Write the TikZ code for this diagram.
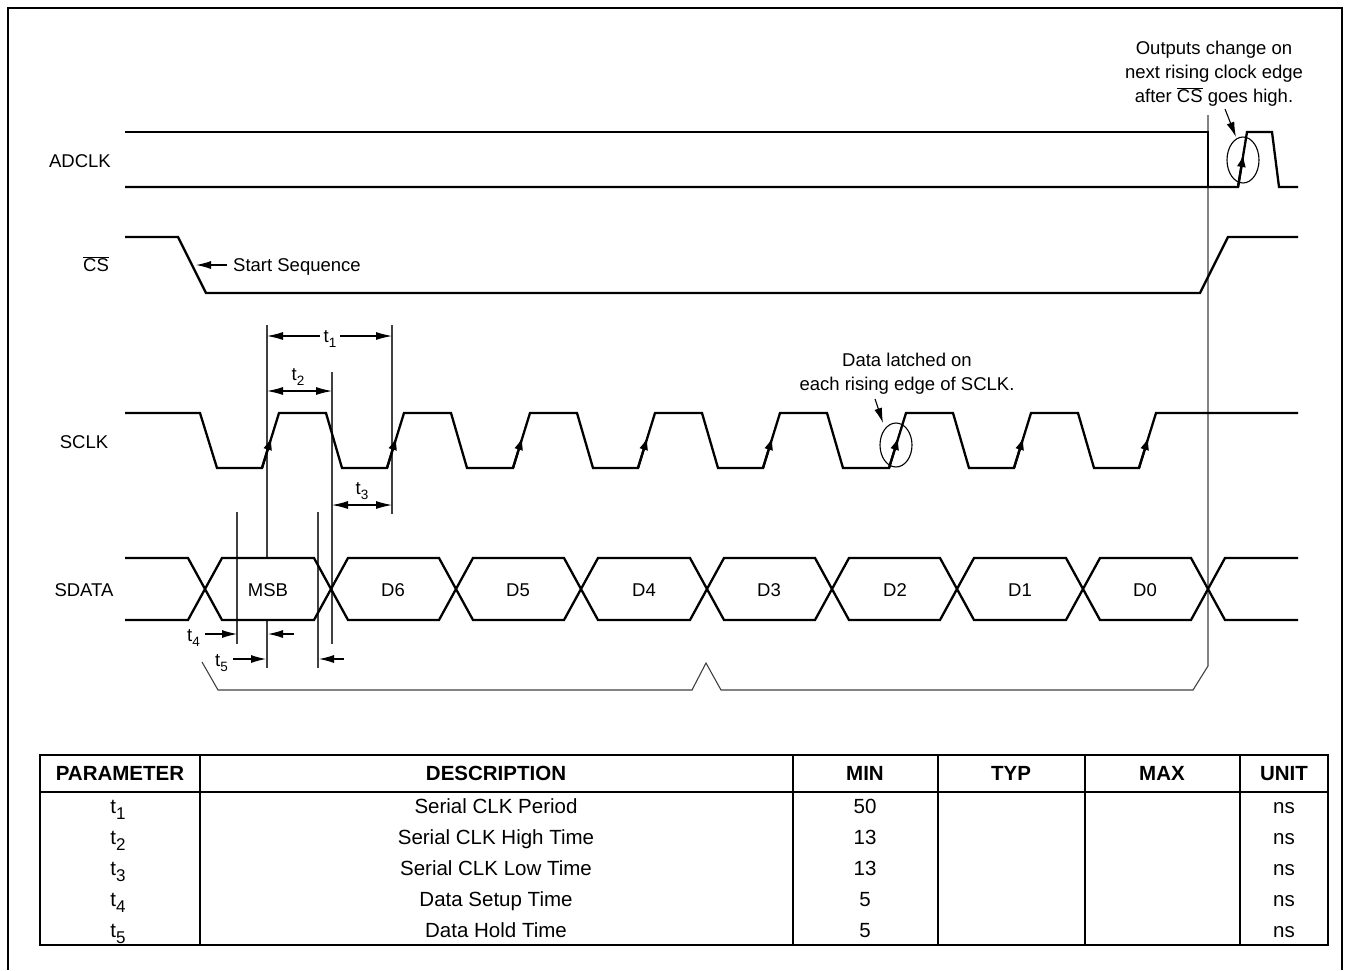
\documentclass[tikz,border=0pt]{standalone}
\usepackage{fontspec}
\setmainfont{Liberation Sans}
\usetikzlibrary{arrows.meta}

% t with lowered index, diagram and table sizes
\newcommand{\dsub}[1]{t\raisebox{-5pt}{\fontsize{13.5}{14}\selectfont #1}}
\newcommand{\tsub}[1]{t\raisebox{-6pt}{\fontsize{17}{18}\selectfont #1}}

\tikzset{
  sig/.style={line width=2.3pt, line join=miter},
  guide/.style={line width=1.1pt, black!75},
  dim/.style={line width=1.1pt, {Latex[length=16pt,width=8pt]}-{Latex[length=16pt,width=8pt]}},
  ptr/.style={line width=1.1pt, -{Latex[length=15pt,width=8pt]}},
  edgetip/.style={line width=2.3pt, -{Latex[length=13pt,width=9pt]}},
  note/.style={font=\fontsize{18.5}{24}\selectfont, inner sep=1pt},
  lbl/.style={note, text height=13.5pt, text depth=4pt},
  cell/.style={font=\fontsize{20.5}{24}\selectfont, text height=15pt, text depth=4.5pt},
  head/.style={cell, font=\fontsize{20.5}{24}\selectfont\bfseries},
  grid/.style={line width=2pt}
}

\begin{document}
\begin{tikzpicture}[x=1pt, y=-1pt]
\useasboundingbox (0,0) rectangle (1350,970);
% outer frame
\draw[line width=2.3pt] (8,970) -- (8,8) -- (1342,8) -- (1342,970);

% guide lines
\draw[guide] (267,325) -- (267,559);
\draw[guide] (267,620) -- (267,668);
\draw[guide] (332,372) -- (332,644);
\draw[guide] (392,325) -- (392,514);
\draw[guide] (237,512) -- (237,644);
\draw[guide] (318,512) -- (318,668);
% bracket to the last edge
\draw[guide] (202,662) -- (218,690) -- (692,690) -- (706,663) -- (721,690)
  -- (1193,690) -- (1208,666) -- (1208,115);

% ADCLK
\node[lbl] (adclk) at (80,163) {ADCLK};
\draw[sig] (125,132) -- (1208,132) -- (1208,187);
\draw[sig] (125,187) -- (1238,187) -- (1247,132) -- (1272,132) -- (1279,187) -- (1298,187);
\draw[edgetip] (1238,187) -- (1243.5,154);
\draw[line width=1.1pt] (1243,160) ellipse [x radius=16pt, y radius=23pt];
\node[note, align=center] (outnote) at (1214,74) {Outputs change on\\next rising clock edge\\after $\overline{\mbox{CS}}$ goes high.};
\coordinate (outfrom) at (1225,109);
\coordinate (outtip) at (1236,137);
\draw[ptr] (outfrom) -- (outtip);

% CS
\node[lbl] (cs) at (96,267) {$\overline{\mbox{CS}}$};
\draw[sig] (125,237) -- (178,237) -- (206,293) -- (1200,293) -- (1228,237) -- (1298,237);
\node[lbl, anchor=west] (startseq) at (232,267) {Start Sequence};
\coordinate (startend) at (196,265);
\draw[ptr] ([xshift=-5pt]startseq.west |- startend) -- (startend);

% SCLK
\node[lbl] (sclk) at (84,444) {SCLK};
\draw[sig] (125,413) -- (200,413) -- (217,468)
  -- (262,468) -- (279,413) -- (326,413) -- (342,468)
  -- (387,468) -- (404,413) -- (451,413) -- (467,468)
  -- (513,468) -- (530,413) -- (577,413) -- (593,468)
  -- (638,468) -- (655,413) -- (702,413) -- (718,468)
  -- (763,468) -- (780,413) -- (827,413) -- (843,468)
  -- (889,468) -- (906,413) -- (953,413) -- (969,468)
  -- (1014,468) -- (1031,413) -- (1078,413) -- (1094,468)
  -- (1139,468) -- (1156,413) -- (1298,413);
% arrows on rising edges
\draw[edgetip] (262,468) -- (271.5,437);
\draw[edgetip] (387,468) -- (396.5,437);
\draw[edgetip] (513,468) -- (522.5,437);
\draw[edgetip] (638,468) -- (647.5,437);
\draw[edgetip] (763,468) -- (772.5,437);
\draw[edgetip] (889,468) -- (898.5,437);
\draw[edgetip] (1014,468) -- (1023.5,437);
\draw[edgetip] (1139,468) -- (1148.5,437);
\draw[line width=1.1pt] (896,445) ellipse [x radius=16pt, y radius=22pt];
\node[note, align=center] (latchnote) at (907,374) {Data latched on\\each rising edge of SCLK.};
\coordinate (latchfrom) at (875,399);
\coordinate (latchtip) at (883,423);
\draw[ptr] (latchfrom) -- (latchtip);

% t1, t2, t3
\coordinate (t1a) at (267,336);
\coordinate (t1b) at (392,336);
\draw[dim] (t1a) -- (t1b);
\node[lbl, fill=white, inner sep=4pt] (t1) at (330,338) {\dsub{1}};
\coordinate (t2a) at (267,391);
\coordinate (t2b) at (332,391);
\draw[dim] (t2a) -- (t2b);
\node[lbl] (t2) at (298,376) {\dsub{2}};
\coordinate (t3a) at (332,505);
\coordinate (t3b) at (392,505);
\draw[dim] (t3a) -- (t3b);
\node[lbl] (t3) at (362,490) {\dsub{3}};

% SDATA
\node[lbl] (sdata) at (84,592) {SDATA};
\draw[sig] (125,558) -- (188,558) -- (205,589) -- (188,620) -- (125,620);
\draw[sig] (205,589) -- (222,558) -- (314,558) -- (331,589) -- (314,620) -- (222,620) -- cycle;
\draw[sig] (331,589) -- (348,558) -- (439,558) -- (456,589) -- (439,620) -- (348,620) -- cycle;
\draw[sig] (456,589) -- (473,558) -- (564,558) -- (581,589) -- (564,620) -- (473,620) -- cycle;
\draw[sig] (581,589) -- (598,558) -- (690,558) -- (707,589) -- (690,620) -- (598,620) -- cycle;
\draw[sig] (707,589) -- (724,558) -- (815,558) -- (832,589) -- (815,620) -- (724,620) -- cycle;
\draw[sig] (832,589) -- (849,558) -- (940,558) -- (957,589) -- (940,620) -- (849,620) -- cycle;
\draw[sig] (957,589) -- (974,558) -- (1066,558) -- (1083,589) -- (1066,620) -- (974,620) -- cycle;
\draw[sig] (1083,589) -- (1100,558) -- (1191,558) -- (1208,589) -- (1191,620) -- (1100,620) -- cycle;
\draw[sig] (1298,558) -- (1225,558) -- (1208,589) -- (1225,620) -- (1298,620);
\node[lbl] (msb) at (268,592) {MSB};
\node[lbl] (d6) at (393,592) {D6};
\node[lbl] (d5) at (518,592) {D5};
\node[lbl] (d4) at (644,592) {D4};
\node[lbl] (d3) at (769,592) {D3};
\node[lbl] (d2) at (895,592) {D2};
\node[lbl] (d1) at (1020,592) {D1};
\node[lbl] (d0) at (1145,592) {D0};

% t4, t5
\node[lbl, anchor=east] (t4) at (201,637) {\dsub{4}};
\coordinate (t4tip) at (237,634);
\draw[ptr] ([xshift=4pt]t4.east |- t4tip) -- (t4tip);
\coordinate (t4back) at (294,634);
\coordinate (t4backtip) at (268,634);
\draw[ptr] (t4back) -- (t4backtip);
\node[lbl, anchor=east] (t5) at (229,662) {\dsub{5}};
\coordinate (t5tip) at (266,659);
\draw[ptr] ([xshift=4pt]t5.east |- t5tip) -- (t5tip);
\coordinate (t5back) at (344,659);
\coordinate (t5backtip) at (319,659);
\draw[ptr] (t5back) -- (t5backtip);

% table
\draw[grid] (40,755) rectangle (1328,945);
\draw[grid] (40,792) -- (1328,792);
\draw[grid] (200,755) -- (200,945);
\draw[grid] (793,755) -- (793,945);
\draw[grid] (938,755) -- (938,945);
\draw[grid] (1085,755) -- (1085,945);
\draw[grid] (1240,755) -- (1240,945);
\node[head] (hpar) at (120,775) {PARAMETER};
\node[head] (hdesc) at (496,775) {DESCRIPTION};
\node[head] (hmin) at (865,775) {MIN};
\node[head] (htyp) at (1011,775) {TYP};
\node[head] (hmax) at (1162,775) {MAX};
\node[head] (hunit) at (1284,775) {UNIT};
% rows
\node[cell] (p1) at (118,808) {\tsub{1}};
\node[cell] (s1) at (496,808) {Serial CLK Period};
\node[cell] (m1) at (865,808) {50};
\node[cell] (u1) at (1284,808) {ns};
\node[cell] (p2) at (118,839) {\tsub{2}};
\node[cell] (s2) at (496,839) {Serial CLK High Time};
\node[cell] (m2) at (865,839) {13};
\node[cell] (u2) at (1284,839) {ns};
\node[cell] (p3) at (118,870) {\tsub{3}};
\node[cell] (s3) at (496,870) {Serial CLK Low Time};
\node[cell] (m3) at (865,870) {13};
\node[cell] (u3) at (1284,870) {ns};
\node[cell] (p4) at (118,901) {\tsub{4}};
\node[cell] (s4) at (496,901) {Data Setup Time};
\node[cell] (m4) at (865,901) {5};
\node[cell] (u4) at (1284,901) {ns};
\node[cell] (p5) at (118,932) {\tsub{5}};
\node[cell] (s5) at (496,932) {Data Hold Time};
\node[cell] (m5) at (865,932) {5};
\node[cell] (u5) at (1284,932) {ns};
\end{tikzpicture}
\end{document}
